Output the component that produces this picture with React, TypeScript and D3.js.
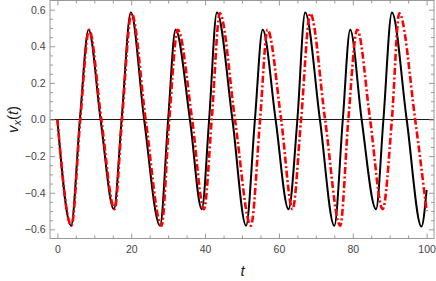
import React, { useEffect, useRef } from 'react';
import * as d3 from 'd3';

// peaks, troughs and zero crossings
const blackT = [0, 3.7, 6.1, 8.45, 11.7, 15.3, 17.4, 19.9, 23.5, 27.8, 30.0, 32.0, 35.9, 39.1, 41.1, 43.2, 47.4, 51.1, 53.5, 55.6, 59.1, 62.6, 65.0, 67.1, 71.1, 75.0, 77.3, 79.3, 82.4, 86.3, 88.3, 90.6, 94.6, 98.6, 100];
const blackV = [0, -0.58, 0, 0.49, 0, -0.49, 0, 0.585, 0, -0.58, 0, 0.49, 0, -0.49, 0, 0.585, 0, -0.58, 0, 0.49, 0, -0.49, 0, 0.585, 0, -0.58, 0, 0.49, 0, -0.49, 0, 0.585, 0, -0.585, -0.385];

const redT = [0, 3.8, 6.2, 8.6, 11.9, 15.5, 17.5, 20.1, 23.9, 28.2, 30.3, 32.6, 36.5, 39.7, 41.8, 44.0, 48.1, 52.4, 54.9, 56.9, 60.6, 63.7, 66.0, 68.5, 72.5, 76.6, 78.8, 81.2, 84.7, 88.1, 90.6, 92.6, 96.9, 100];
const redV = [0, -0.58, 0, 0.49, 0, -0.49, 0, 0.58, 0, -0.58, 0, 0.49, 0, -0.49, 0, 0.58, 0, -0.58, 0, 0.49, 0, -0.49, 0, 0.58, 0, -0.58, 0, 0.49, 0, -0.49, 0, 0.58, 0, -0.5];

const xMajor = [0, 20, 40, 60, 80, 100];
const xMinor = [5, 10, 15, 25, 30, 35, 45, 50, 55, 65, 70, 75, 85, 90, 95];
const yMajor = [-0.6, -0.4, -0.2, 0, 0.2, 0.4, 0.6];
const yMinor = [-0.55, -0.5, -0.45, -0.35, -0.3, -0.25, -0.15, -0.1, -0.05, 0.05, 0.1, 0.15, 0.25, 0.3, 0.35, 0.45, 0.5, 0.55];

const W = 436;
const H = 281;

const App = () => {
  const svgRef = useRef<SVGSVGElement | null>(null);

  useEffect(() => {
    const svg = d3.select(svgRef.current);
    svg.selectAll('*').remove();

    const left = 50, right = 434, top = 0.5, bottom = 238.5;
    const x = d3.scaleLinear().domain([-2, 102]).range([left, right]);
    const y = d3.scaleLinear().domain([-0.65, 0.65]).range([bottom, top]);
    const font = 'Liberation Sans, Arial, sans-serif';
    const frameColor = '#9a9a9a';
    const labelColor = '#444';

    const fmtY = (d: number) => (d < 0 ? '\u2212' : '') + Math.abs(d).toFixed(1);

    const styleAxis = (g: any) => {
      g.select('.domain').remove();
      g.selectAll('line').attr('stroke', frameColor).attr('stroke-width', 1);
      g.selectAll('text').attr('fill', labelColor).attr('font-family', font).attr('font-size', 10.5);
    };

    // curves
    const line = d3.line<[number, number]>()
      .x(d => x(d[0]))
      .y(d => y(d[1]))
      .curve(d3.curveMonotoneX);

    svg.append('line')
      .attr('x1', left).attr('x2', right)
      .attr('y1', y(0)).attr('y2', y(0))
      .attr('stroke', '#000').attr('stroke-width', 0.9);

    svg.append('path')
      .attr('d', line(blackT.map((t, i) => [t, blackV[i]]) as [number, number][]))
      .attr('fill', 'none')
      .attr('stroke', '#000')
      .attr('stroke-width', 2);

    svg.append('path')
      .attr('d', line(redT.map((t, i) => [t, redV[i]]) as [number, number][]))
      .attr('fill', 'none')
      .attr('stroke', '#ff0000')
      .attr('stroke-width', 2.6)
      .attr('stroke-dasharray', '7,2.5,2,2.5');

    // frame ticks (inward), labelled on bottom and left
    svg.append('g').attr('transform', `translate(0,${bottom})`)
      .call(d3.axisBottom(x).tickValues(xMajor).tickSize(-5).tickPadding(7).tickFormat(d3.format('d')))
      .call(styleAxis);
    svg.append('g').attr('transform', `translate(0,${bottom})`)
      .call(d3.axisBottom(x).tickValues(xMinor).tickSize(-3).tickFormat(() => ''))
      .call(styleAxis);
    svg.append('g').attr('transform', `translate(0,${top})`)
      .call(d3.axisTop(x).tickValues(xMajor).tickSize(-5).tickFormat(() => ''))
      .call(styleAxis);
    svg.append('g').attr('transform', `translate(0,${top})`)
      .call(d3.axisTop(x).tickValues(xMinor).tickSize(-3).tickFormat(() => ''))
      .call(styleAxis);

    svg.append('g').attr('transform', `translate(${left},0)`)
      .call(d3.axisLeft(y).tickValues(yMajor).tickSize(-5).tickPadding(4.5).tickFormat(d => fmtY(+d)))
      .call(styleAxis);
    svg.append('g').attr('transform', `translate(${left},0)`)
      .call(d3.axisLeft(y).tickValues(yMinor).tickSize(-3).tickFormat(() => ''))
      .call(styleAxis);
    svg.append('g').attr('transform', `translate(${right},0)`)
      .call(d3.axisRight(y).tickValues(yMajor).tickSize(-5).tickFormat(() => ''))
      .call(styleAxis);
    svg.append('g').attr('transform', `translate(${right},0)`)
      .call(d3.axisRight(y).tickValues(yMinor).tickSize(-3).tickFormat(() => ''))
      .call(styleAxis);

    svg.append('rect')
      .attr('x', left).attr('y', top)
      .attr('width', right - left).attr('height', bottom - top)
      .attr('fill', 'none')
      .attr('stroke', frameColor)
      .attr('stroke-width', 1);

    // axis labels
    svg.append('text')
      .attr('x', 242.5).attr('y', 276)
      .attr('text-anchor', 'middle')
      .attr('font-family', font).attr('font-size', 15).attr('font-style', 'italic')
      .attr('fill', '#222')
      .text('t');

    const yl = svg.append('text')
      .attr('transform', `translate(18,${y(0)}) rotate(-90)`)
      .attr('text-anchor', 'middle')
      .attr('font-family', font).attr('font-size', 15)
      .attr('fill', '#222');
    yl.append('tspan').attr('font-style', 'italic').text('v');
    yl.append('tspan').attr('font-style', 'italic').attr('font-size', 11).attr('dy', 3).text('x');
    yl.append('tspan').attr('dy', -3).text('(');
    yl.append('tspan').attr('font-style', 'italic').text('t');
    yl.append('tspan').text(')');
  }, []);

  return (
    <svg ref={svgRef} width={W} height={H}
      style={{ position: 'absolute', left: 0, top: 0, background: '#fff' }} />
  );
};

export default App;
